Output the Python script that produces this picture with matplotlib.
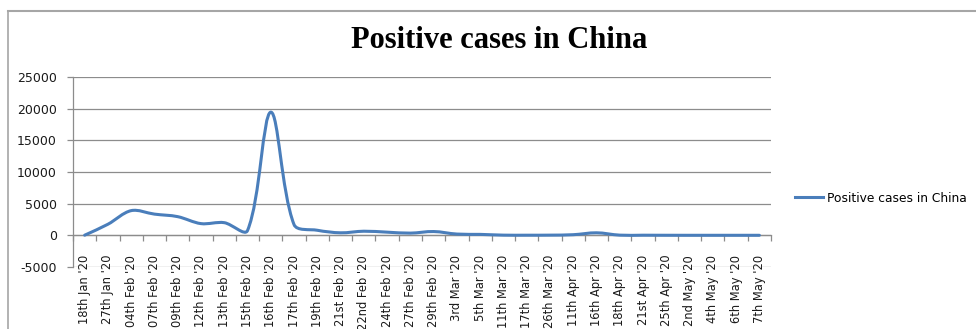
import matplotlib
matplotlib.use("Agg")
import matplotlib.pyplot as plt
from matplotlib.path import Path
from matplotlib.patches import PathPatch
from matplotlib.lines import Line2D
import numpy as np

# Reporting dates and daily positive cases
dates = ["18th Jan '20", "27th Jan '20", "04th Feb '20", "07th Feb '20", "09th Feb '20",
         "12th Feb '20", "13th Feb '20", "15th Feb '20", "16th Feb '20", "17th Feb '20",
         "19th Feb '20", "21st Feb '20", "22nd Feb '20", "24th Feb '20", "27th Feb '20",
         "29th Feb '20", "3rd Mar '20", "5th Mar '20", "11th Mar '20", "17th Mar '20",
         "26th Mar '20", "11th Apr '20", "16th Apr '20", "18th Apr '20", "21st Apr '20",
         "25th Apr '20", "2nd May '20", "4th May '20", "6th May '20", "7th May '20"]
cases = [20, 1750, 3900, 3350, 2950, 1850, 2000, 750, 19450, 1700,
         800, 400, 650, 500, 350, 600, 200, 150, 30, 20,
         30, 100, 400, 30, 20, 10, 5, 5, 5, 5]
series_name = "Positive cases in China"
y_ticks = [-5000, 0, 5000, 10000, 15000, 20000, 25000]

W, H, DPI = 976, 329, 100
fig = plt.figure(figsize=(W / DPI, H / DPI), dpi=DPI)
fig.patch.set_facecolor("white")

ax = fig.add_axes([73 / W, (H - 267) / H, (771 - 73) / W, (267 - 77) / H])
ax.set_xlim(-0.5, len(cases) - 0.5)
ax.set_ylim(-5000, 25000)

x = np.arange(len(cases), dtype=float)
y = np.asarray(cases, dtype=float)

# Smoothed line: cubic Bezier segments whose control points use chord-length
# weighted tangents computed in screen space, then mapped back to data space
pts = ax.transData.transform(np.column_stack([x, y]))
n = len(pts)
verts = [tuple(pts[0])]
codes = [Path.MOVETO]
for i in range(n - 1):
    p0 = pts[max(i - 1, 0)]
    p1 = pts[i]
    p2 = pts[i + 1]
    p3 = pts[min(i + 2, n - 1)]
    d01 = np.hypot(*(p1 - p0))
    d12 = np.hypot(*(p2 - p1))
    d23 = np.hypot(*(p3 - p2))
    w1 = d12 / (d01 + d12) if (d01 + d12) > 0 else 0.5
    w2 = d12 / (d12 + d23) if (d12 + d23) > 0 else 0.5
    c1 = p1 + (p2 - p0) * w1 / 3.0
    c2 = p2 - (p3 - p1) * w2 / 3.0
    verts += [tuple(c1), tuple(c2), tuple(p2)]
    codes += [Path.CURVE4] * 3
data_verts = ax.transData.inverted().transform(np.array(verts))
line_color = "#4A7EBB"
ax.add_patch(PathPatch(Path(data_verts, codes), facecolor="none", edgecolor=line_color,
                       lw=2.2, capstyle="round", joinstyle="round", zorder=3))

ax.set_yticks(y_ticks)
ax.set_yticklabels([str(v) for v in y_ticks])

grid_color = "#8C8C8C"
ax.yaxis.grid(True, color=grid_color, lw=0.9)
ax.set_axisbelow(True)

for s in ["top", "right"]:
    ax.spines[s].set_visible(False)
ax.spines["left"].set_color(grid_color)
ax.spines["left"].set_linewidth(0.9)
ax.spines["bottom"].set_position(("data", 0))
ax.spines["bottom"].set_color(grid_color)
ax.spines["bottom"].set_linewidth(0.9)

# Category labels at centres, tick marks on the category boundaries
ax.set_xticks(x)
ax.set_xticklabels(dates, rotation=90, fontsize=8.3, color="#1a1a1a")
ax.set_xticks(np.arange(len(cases) + 1) - 0.5, minor=True)
ax.tick_params(axis="x", which="major", length=0, pad=14)
ax.tick_params(axis="x", which="minor", length=4.5, width=0.9, color=grid_color, direction="out")
ax.tick_params(axis="y", length=4.5, width=0.9, color=grid_color, labelsize=9, pad=7,
               labelcolor="#1a1a1a")

line_handle = Line2D([], [], color=line_color, lw=2.2)
fig.legend([line_handle], [series_name], loc="center left",
           bbox_to_anchor=(795 / W, 1 - 198 / H), frameon=False,
           fontsize=8.8, handlelength=2.3, handletextpad=0.3, borderpad=0,
           borderaxespad=0)

fig.text(499 / W, 1 - 40 / H, series_name, ha="center", va="center",
         fontsize=22, fontweight="bold", family="Liberation Serif")

# Chart area border (left and top edges)
border = "#A6A6A6"
fig.add_artist(Line2D([8 / W, 8 / W], [0, 1 - 11 / H], color=border, lw=1.2,
                      transform=fig.transFigure))
fig.add_artist(Line2D([8 / W, 1], [1 - 11 / H, 1 - 11 / H], color=border, lw=1.5,
                      transform=fig.transFigure))

fig.savefig("out.png", dpi=DPI, facecolor="white")
